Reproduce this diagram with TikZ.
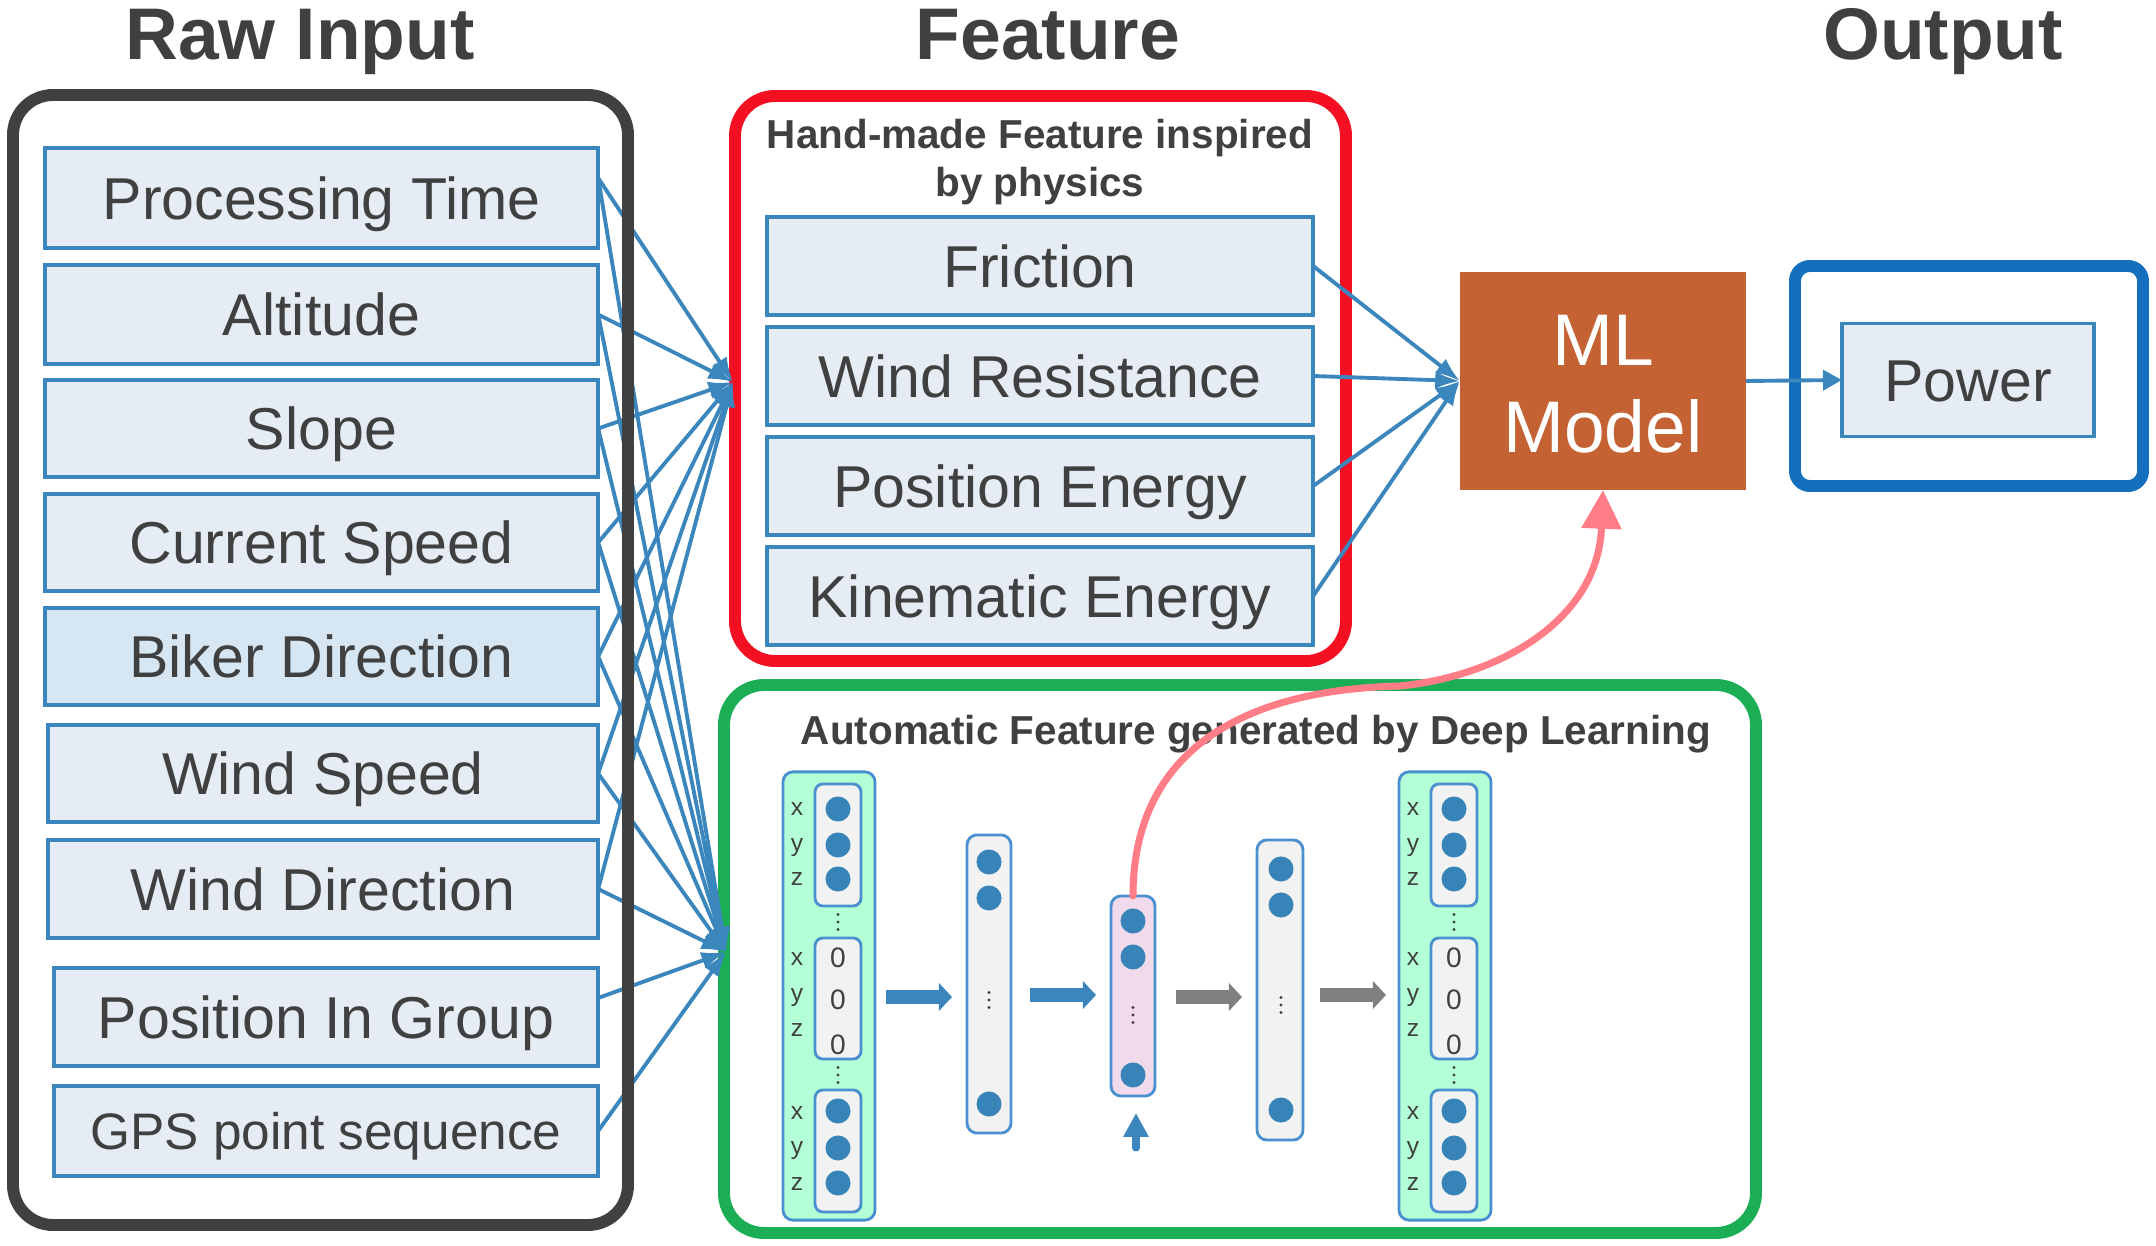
\documentclass[tikz,border=0pt]{standalone}
\usepackage{fontspec}
\setmainfont{Liberation Sans}
\usetikzlibrary{arrows.meta,calc}
\definecolor{txt}{RGB}{64,64,64}
\definecolor{bblue}{RGB}{58,134,189}
\definecolor{bfill}{RGB}{230,236,244}
\definecolor{bdfill}{RGB}{214,230,242}
\definecolor{rawc}{RGB}{64,64,64}
\definecolor{redc}{RGB}{242,16,34}
\definecolor{greenc}{RGB}{27,174,84}
\definecolor{outc}{RGB}{20,112,188}
\definecolor{mlc}{RGB}{196,98,51}
\definecolor{mint}{RGB}{179,255,214}
\definecolor{lgray}{RGB}{242,242,242}
\definecolor{pinkc}{RGB}{240,218,235}
\definecolor{nnblue}{RGB}{74,144,208}
\definecolor{dotc}{RGB}{56,132,185}
\definecolor{garrow}{RGB}{128,128,128}
\definecolor{curvec}{RGB}{255,125,135}
\newcommand{\myvdots}[2]{\foreach \dy in {-7.5,0,7.5} {\fill[txt] (#1,#2+\dy) circle (0.016cm);}}
\begin{document}
\begin{tikzpicture}[x=0.01cm,y=-0.01cm,
  ttl/.style={font=\fontsize{20.8}{25}\selectfont\bfseries, text=txt, inner sep=0, anchor=base},
  inbox/.style={draw=bblue, line width=1pt, fill=bfill, inner sep=0, outer sep=0, text=txt,
    font=\fontsize{16.8}{20}\selectfont, text height=12pt, text depth=0pt},
  hdr/.style={font=\fontsize{11.5}{14}\selectfont\bfseries, text=txt, inner sep=0, anchor=base},
  conn/.style={draw=bblue, line width=1.1pt, -{Latex[length=7pt,width=5pt]}},
  grp/.style={line width=3.4pt, rounded corners=0.4cm},
  nncol/.style={draw=nnblue, line width=0.8pt, rounded corners=0.1cm, inner sep=0, outer sep=0},
  innerbox/.style={draw=nnblue, line width=0.8pt, rounded corners=0.08cm, fill=lgray, inner sep=0, minimum width=0.46cm},
  nndot/.style={fill=dotc, draw=none, circle, minimum size=0.25cm, inner sep=0},
  lbl/.style={font=\fontsize{7}{8}\selectfont, text=txt, inner sep=0, text height=3.6pt, text depth=0pt},
  zero/.style={font=\fontsize{8}{9}\selectfont, text=txt, inner sep=0, text height=5.7pt, text depth=0pt},
  blk/.style={line width=3.7pt, -{Triangle[length=3.7pt,width=7.7pt]}},
]
\useasboundingbox (0,0) rectangle (2156,1246);

% titles
\node[ttl] (t1) at (300,60) {Raw Input};
\node[ttl] (t2) at (1048,60) {Feature};
\node[ttl] (t3) at (1943,60) {Output};

% raw input boxes
\node[inbox, minimum width=5.53cm, minimum height=1.00cm] (pt) at (321.5,198) {Processing Time};
\node[inbox, minimum width=5.53cm, minimum height=0.99cm] (alt) at (321.5,314.5) {Altitude};
\node[inbox, minimum width=5.53cm, minimum height=0.97cm] (slope) at (321.5,428.5) {Slope};
\node[inbox, minimum width=5.53cm, minimum height=0.97cm] (cs) at (321.5,542.5) {Current Speed};
\node[inbox, fill=bdfill, minimum width=5.53cm, minimum height=0.97cm] (bd) at (321.5,656.5) {Biker Direction};
\node[inbox, minimum width=5.50cm, minimum height=0.97cm] (ws) at (323,773.5) {Wind Speed};
\node[inbox, minimum width=5.50cm, minimum height=0.98cm] (wd) at (323,889) {Wind Direction};
\node[inbox, minimum width=5.44cm, minimum height=0.98cm] (pig) at (326,1017) {Position In Group};
\node[inbox, font=\fontsize{14.6}{18}\selectfont, text height=10.5pt, minimum width=5.44cm, minimum height=0.90cm] (gps) at (326,1131) {GPS point sequence};

% hand-made features
\node[hdr] (h1) at (1040,149) {Hand-made Feature inspired};
\node[hdr] (h2) at (1040,197) {by physics};
\node[inbox, minimum width=5.46cm, minimum height=0.98cm] (fr) at (1040,266) {Friction};
\node[inbox, minimum width=5.46cm, minimum height=0.98cm] (wr) at (1040,376) {Wind Resistance};
\node[inbox, minimum width=5.46cm, minimum height=0.98cm] (pe) at (1040,486) {Position Energy};
\node[inbox, minimum width=5.46cm, minimum height=0.98cm] (ke) at (1040,596) {Kinematic Energy};

% ML model and output
\node[fill=mlc, minimum width=2.86cm, minimum height=2.18cm, inner sep=0, outer sep=0] (ml) at (1603,381) {};
\node[font=\fontsize{20.8}{25}\selectfont, text=white, inner sep=0, anchor=base] (ml1) at (1603,366) {ML};
\node[font=\fontsize{20.8}{25}\selectfont, text=white, inner sep=0, anchor=base] (ml2) at (1603,453) {Model};
\node[inbox, minimum width=2.52cm, minimum height=1.13cm] (pw) at (1968,380) {Power};

% group frames
\draw[grp, draw=redc] (735,96) rectangle (1346,661);
\draw[grp, draw=greenc] (724,685) rectangle (1756,1233);
\draw[line width=3.4pt, rounded corners=0.15cm, draw=outc] (1795,266) rectangle (2143,486);

\node[hdr] (gt) at (1256,745) {Automatic Feature generated by Deep Learning};

% convergence points
\coordinate (A) at (733,382);
\coordinate (B) at (726,952);
\coordinate (ptS) at ([yshift=0.2cm]pt.east);
\coordinate (pigS) at ([yshift=0.19cm]pig.east);

\draw[conn] (ptS) -- (A);
\draw[conn] (ptS) -- (B);
\foreach \n in {alt,slope,cs,bd,ws,wd} {
  \draw[conn] (\n.east) -- (A);
  \draw[conn] (\n.east) -- (B);
}
\draw[conn] (pigS) -- (B);
\draw[conn] (gps.east) -- (B);

\foreach \n in {fr,wr,pe,ke} {\draw[conn] (\n.east) -- (ml.west);}
\draw[draw=bblue, line width=1.1pt, -{Triangle[length=5.4pt,width=5.7pt]}] (ml.east) -- (pw.west);

% raw input frame drawn over the connectors
\draw[grp, draw=rawc] (13,95) rectangle (628,1225);

% neural network: input and output columns
\foreach \cx/\ix/\lx/\nm in {829/838/797/a, 1445/1454/1413/b} {
  \node[nncol, fill=mint, minimum width=0.92cm, minimum height=4.48cm] (col\nm) at (\cx,996) {};
  \node[innerbox, minimum height=1.22cm] (col\nm i1) at (\ix,845) {};
  \node[innerbox, minimum height=1.21cm] (col\nm i2) at (\ix,998.5) {};
  \node[innerbox, minimum height=1.22cm] (col\nm i3) at (\ix,1151) {};
  \foreach \y [count=\i] in {809,845,879,1111,1148,1183} {\node[nndot] (col\nm d\i) at (\ix,\y) {};}
  \foreach \y [count=\i] in {957,999,1044} {\node[zero] (col\nm z\i) at (\ix,\y) {0};}
  \foreach \y/\t [count=\i] in {809/x,845/y,879/z,959/x,995/y,1030/z,1113/x,1148/y,1184/z} {\node[lbl] (col\nm l\i) at (\lx,\y) {\t};}
  \myvdots{\ix}{922}
  \myvdots{\ix}{1075}
}

% hidden layers
\node[nncol, fill=lgray, minimum width=0.44cm, minimum height=2.98cm] (hA) at (989,984) {};
\foreach \y [count=\i] in {862,898,1104} {\node[nndot] (hAd\i) at (989,\y) {};}
\myvdots{989}{1000}
\node[nncol, fill=pinkc, minimum width=0.44cm, minimum height=2.00cm] (code) at (1133,996) {};
\foreach \y [count=\i] in {921,957,1075} {\node[nndot] (cd\i) at (1133,\y) {};}
\myvdots{1133}{1015}
\node[nncol, fill=lgray, minimum width=0.46cm, minimum height=3.00cm] (hB) at (1280,990) {};
\foreach \y [count=\i] in {869,905,1110} {\node[nndot] (hBd\i) at (1281,\y) {};}
\myvdots{1281}{1005}

% block arrows
\draw[blk, draw=bblue] (886,997) -- (952,997);
\draw[blk, draw=bblue] (1030,995) -- (1096,995);
\draw[blk, draw=garrow] (1176,997) -- (1242,997);
\draw[blk, draw=garrow] (1320,995) -- (1386,995);
\draw[draw=bblue, line width=2pt, line cap=round, -{Triangle[length=6.8pt,width=6.8pt]}] (1136,1148) -- (1136,1113);

% feature code to ML model
\draw[draw=curvec, line width=2pt, line cap=round, -{Triangle[length=11pt,width=11pt]}]
  (code.north) .. controls (1133,760) and (1230,690) .. (1400,686)
  .. controls (1500,676) and (1598,620) .. (ml.south);
\end{tikzpicture}
\end{document}
